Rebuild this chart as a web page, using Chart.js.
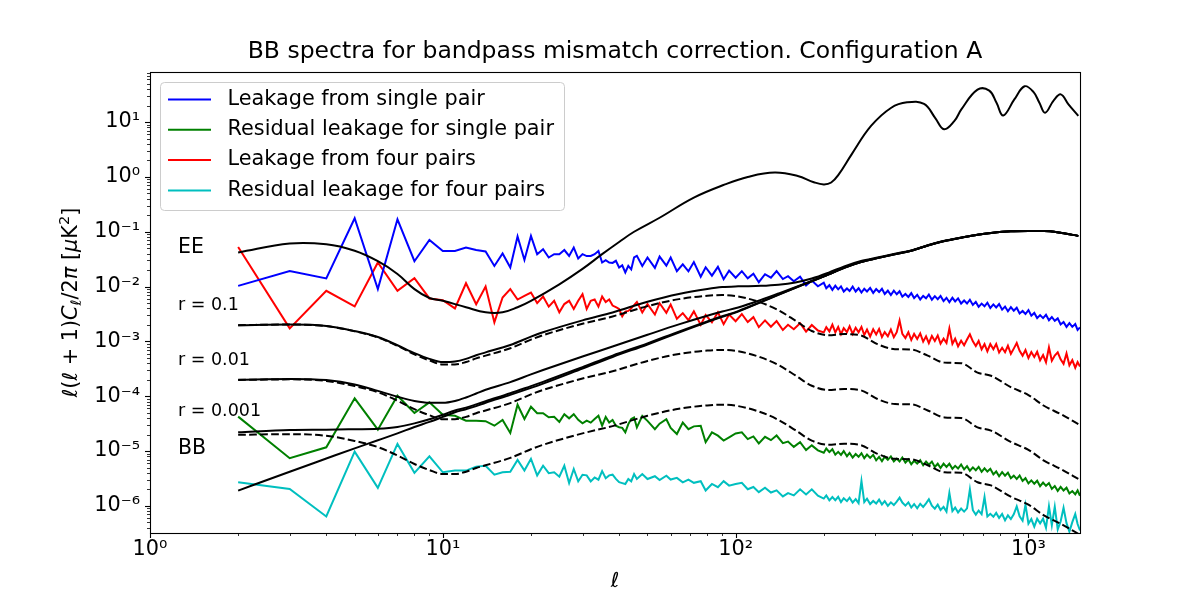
<!DOCTYPE html>
<html>
<head>
<meta charset="utf-8">
<title>BB spectra for bandpass mismatch correction</title>
<script src="https://cdn.jsdelivr.net/npm/chart.js@4.4.1/dist/chart.umd.min.js"></script>
<style>
  html, body { margin: 0; padding: 0; background: #fff; }
  #wrap { width: 1200px; height: 600px; }
</style>
</head>
<body>
<div id="wrap"><canvas id="chart" width="1200" height="600"></canvas></div>
<script>
// ===== DATA =====
// multipoles of the measured (simulated) leakage spectra
const dataEll = [2, 3, 4, 5, 6, 7, 8, 9, 10, 11, 12, 13, 14, 15, 16, 17, 18, 19, 20, 21, 22, 23, 24, 25, 26, 27, 28, 29, 30, 31, 32, 33, 34, 35, 36, 37, 38, 39, 40, 41, 42, 43, 44, 45,
    46, 48, 50, 53, 55, 58, 60, 63, 66, 69, 72, 76, 79, 83, 87, 91, 95, 100, 105, 110,
    115, 120, 126, 132, 138, 145, 151, 158, 166, 174, 182, 191,
    200, 204, 209, 214, 219, 224, 229, 234, 240, 245, 251, 257, 263, 269, 275, 281, 288, 295, 302, 309,
    316, 323, 331, 339, 347, 355, 363, 371, 380, 389, 398, 407, 417, 427, 437, 447, 457, 468, 479, 490,
    501, 513, 525, 537, 550, 562, 575, 589, 603, 617, 631, 646, 661, 676, 692, 708, 724, 741, 759, 776,
    794, 813, 832, 851, 871, 891, 912, 933, 955, 977, 1000, 1023, 1047, 1071, 1096, 1122, 1148, 1175, 1202, 1230,
    1259, 1288, 1318, 1349, 1380, 1412, 1445, 1472, 1500];

const leakSingle = [0.0103, 0.0193, 0.0141, 0.176, 0.00898, 0.169, 0.029, 0.071, 0.0447, 0.0447, 0.0515, 0.0464, 0.0436, 0.0238, 0.0401, 0.0223, 0.0818, 0.0306, 0.0838, 0.0389, 0.048, 0.0339, 0.0389, 0.039, 0.0464, 0.0362, 0.0515, 0.0325, 0.039, 0.036, 0.0362, 0.039, 0.0447, 0.0275, 0.0303, 0.0275, 0.027, 0.0295, 0.0223, 0.0244, 0.0181, 0.0238, 0.0206, 0.0339,
    0.0363, 0.0238, 0.0339, 0.0219, 0.0352, 0.0241, 0.0339, 0.0191, 0.0255, 0.019, 0.028, 0.0151, 0.0225, 0.0158, 0.0229, 0.0136, 0.0195, 0.0145, 0.0191, 0.0141,
    0.0171, 0.012, 0.0168, 0.0145, 0.0191, 0.0137, 0.0155, 0.0125, 0.0152, 0.0105, 0.0129, 0.0101,
    0.01175, 9.33e-3, 0.0106, 8.71e-3, 0.01035, 8.91e-3, 0.0101, 8.13e-3, 9.23e-3, 8.32e-3, 0.01, 8.13e-3, 9.33e-3, 7.76e-3, 9.12e-3, 8.13e-3, 9.44e-3, 7.67e-3, 9.02e-3, 7.94e-3,
    9.12e-3, 7.33e-3, 8.41e-3, 7.0e-3, 8.41e-3, 7.24e-3, 8.22e-3, 6.53e-3, 7.33e-3, 6.46e-3, 7.59e-3, 6.17e-3, 7.08e-3, 5.82e-3, 6.76e-3, 6.1e-3, 7.16e-3, 5.75e-3, 6.68e-3, 5.89e-3,
    6.76e-3, 5.43e-3, 6.24e-3, 5.19e-3, 6.24e-3, 5.37e-3, 6.1e-3, 4.9e-3, 5.56e-3, 4.9e-3, 5.75e-3, 4.62e-3, 5.25e-3, 4.27e-3, 4.9e-3, 4.37e-3, 5.07e-3, 4.07e-3, 4.73e-3, 4.17e-3,
    4.79e-3, 3.8e-3, 4.32e-3, 3.55e-3, 4.22e-3, 3.63e-3, 4.12e-3, 3.24e-3, 3.59e-3, 3.16e-3, 3.72e-3, 2.95e-3, 3.31e-3, 2.66e-3, 3.02e-3, 2.66e-3, 3.05e-3, 2.43e-3, 2.79e-3, 2.37e-3,
    2.63e-3, 2.04e-3, 2.26e-3, 1.84e-3, 2.16e-3, 1.84e-3, 2.07e-3, 1.62e-3, 1.8e-3];

const residSingle = [4.24e-5, 7.4e-6, 1.17e-5, 9.16e-5, 2.45e-5, 1.02e-4, 4.94e-5, 7.74e-5, 4.6e-5, 4.4e-5, 3.58e-5, 3.58e-5, 3.5e-5, 2.9e-5, 3.7e-5, 2.14e-5, 7e-5, 3.85e-5, 6.44e-5, 4.9e-5, 4.9e-5, 4.13e-5, 4.2e-5, 3.4e-5, 4.7e-5, 3.95e-5, 4.7e-5, 3.7e-5, 3.2e-5, 3.58e-5, 3.3e-5, 3.85e-5, 4.4e-5, 2.9e-5, 4.2e-5, 3.3e-5, 3.7e-5, 2.9e-5, 2.72e-5, 2.65e-5, 2.2e-5, 3.1e-5, 3.85e-5, 4.1e-5,
    2.69e-5, 4.37e-5, 3.55e-5, 2.51e-5, 3.16e-5, 3.8e-5, 2.63e-5, 2.04e-5, 3.31e-5, 2.51e-5, 2.82e-5, 2.88e-5, 1.45e-5, 2.19e-5, 1.91e-5, 1.55e-5, 1.78e-5, 2.09e-5, 2.19e-5, 1.65e-5,
    1.85e-5, 1.38e-5, 1.82e-5, 1.58e-5, 1.92e-5, 1.39e-5, 1.49e-5, 1.19e-5, 1.45e-5, 1.04e-5, 1.27e-5, 1.03e-5,
    9.33e-6, 1.11e-5, 9.55e-6, 1.08e-5, 8.61e-6, 9.66e-6, 8.51e-6, 1.0e-5, 8.04e-6, 9.23e-6, 7.59e-6, 8.81e-6, 7.85e-6, 9.12e-6, 7.41e-6, 8.61e-6, 7.5e-6, 8.51e-6, 6.76e-6, 7.8e-6,
    6.53e-6, 7.89e-6, 6.92e-6, 7.98e-6, 6.46e-6, 7.28e-6, 6.46e-6, 7.62e-6, 6.17e-6, 7.03e-6, 5.75e-6, 6.64e-6, 5.89e-6, 6.79e-6, 5.5e-6, 6.41e-6, 5.62e-6, 6.41e-6, 5.13e-6, 5.89e-6,
    4.9e-6, 5.89e-6, 5.13e-6, 5.89e-6, 4.73e-6, 5.37e-6, 4.79e-6, 5.69e-6, 4.62e-6, 5.31e-6, 4.37e-6, 5.04e-6, 4.47e-6, 5.15e-6, 4.17e-6, 4.84e-6, 4.22e-6, 4.75e-6, 3.76e-6, 4.24e-6,
    3.47e-6, 4.12e-6, 3.55e-6, 4.03e-6, 3.2e-6, 3.55e-6, 3.09e-6, 3.59e-6, 2.85e-6, 3.2e-6, 2.57e-6, 2.92e-6, 2.54e-6, 2.88e-6, 2.29e-6, 2.66e-6, 2.32e-6, 2.6e-6, 2.04e-6, 2.3e-6,
    1.88e-6, 2.22e-6, 1.91e-6, 2.14e-6, 1.68e-6, 1.86e-6, 1.62e-6, 1.91e-6, 1.53e-6];

const leakFour = [0.0528, 0.00173, 0.00835, 0.00434, 0.0275, 0.00835, 0.0142, 0.00607, 0.00565, 0.00399, 0.0115, 0.00477, 0.01, 0.00222, 0.00632, 0.00898, 0.0058, 0.00678, 0.0078, 0.005, 0.0066, 0.0043, 0.0055, 0.0034, 0.0048, 0.0055, 0.0039, 0.0055, 0.00728, 0.0039, 0.0055, 0.0058, 0.0043, 0.0066, 0.0052, 0.0058, 0.0045, 0.0042, 0.0039, 0.00285, 0.0035, 0.0036, 0.004, 0.0046,
    5.25e-3, 3.36e-3, 4.79e-3, 3.09e-3, 4.97e-3, 3.33e-3, 4.68e-3, 2.58e-3, 3.28e-3, 2.44e-3, 3.53e-3, 2.0e-3, 3.03e-3, 2.24e-3, 3.39e-3, 2.06e-3, 3.09e-3, 2.34e-3, 3.16e-3, 2.25e-3,
    2.77e-3, 1.82e-3, 2.42e-3, 1.85e-3, 2.34e-3, 1.61e-3, 2.01e-3, 1.67e-3, 2.15e-3, 1.51e-3, 1.99e-3, 1.58e-3,
    1.46e-3, 1.81e-3, 1.52e-3, 2.02e-3, 1.46e-3, 1.83e-3, 1.35e-3, 1.75e-3, 1.48e-3, 1.89e-3, 1.37e-3, 1.78e-3, 1.47e-3, 1.84e-3, 1.31e-3, 1.64e-3, 1.23e-3, 1.66e-3, 1.34e-3, 1.69e-3,
    1.2e-3, 1.48e-3, 1.24e-3, 1.64e-3, 1.19e-3, 1.47e-3, 2.4e-3, 1.37e-3, 1.15e-3, 1.47e-3, 1.06e-3, 1.37e-3, 1.11e-3, 1.4e-3, 9.91e-4, 1.24e-3, 9.33e-4, 1.26e-3, 1.02e-3, 1.28e-3,
    9.08e-4, 1.12e-3, 9.38e-4, 1.72e-3, 9.0e-4, 1.12e-3, 8.13e-4, 1.03e-3, 8.51e-4, 1.08e-3, 1.35e-3, 1.0e-3, 8.24e-4, 1.02e-3, 7.18e-4, 8.91e-4, 6.61e-4, 8.93e-4, 7.21e-4, 8.95e-4,
    6.28e-4, 7.66e-4, 6.34e-4, 8.32e-4, 5.94e-4, 7.38e-4, 9.33e-4, 6.71e-4, 5.5e-4, 6.95e-4, 4.97e-4, 6.4e-4, 5.2e-4, 6.46e-4, 4.53e-4, 5.62e-4, 4.17e-4, 7.76e-4, 4.45e-4, 5.52e-4,
    6.31e-4, 4.72e-4, 3.91e-4, 6.03e-4, 3.66e-4, 4.55e-4, 3.31e-4, 4.19e-4, 3.47e-4];

const residFour = [2.7e-6, 2.04e-6, 6.4e-7, 9.75e-6, 2.13e-6, 1.35e-5, 4e-6, 8e-6, 4.1e-6, 4.4e-6, 4.4e-6, 5.2e-6, 5.4e-6, 3.7e-6, 4.1e-6, 4.2e-6, 6.9e-6, 4.4e-6, 7.2e-6, 3.6e-6, 5.4e-6, 3.95e-6, 4.1e-6, 3.4e-6, 5.4e-6, 2.6e-6, 4.7e-6, 2.8e-6, 3.7e-6, 3.6e-6, 2.8e-6, 3.3e-6, 3e-6, 4.3e-6, 3.2e-6, 3.6e-6, 3.7e-6, 3.1e-6, 2.7e-6, 2.6e-6, 2.5e-6, 3.1e-6, 2.8e-6, 3.8e-6,
    3.09e-6, 3.8e-6, 3.09e-6, 3.47e-6, 2.95e-6, 3.55e-6, 3.02e-6, 3.24e-6, 2.69e-6, 3.02e-6, 2.63e-6, 2.82e-6, 1.91e-6, 2.51e-6, 2.19e-6, 2.82e-6, 2.34e-6, 2.51e-6, 2.63e-6, 2.01e-6,
    2.21e-6, 1.78e-6, 2.15e-6, 1.75e-6, 1.92e-6, 1.49e-6, 1.71e-6, 1.55e-6, 2.0e-6, 1.61e-6, 2.0e-6, 1.53e-6,
    1.36e-6, 1.55e-6, 1.26e-6, 1.45e-6, 1.27e-6, 1.46e-6, 1.17e-6, 1.38e-6, 1.22e-6, 1.41e-6, 1.15e-6, 1.33e-6, 1.12e-6, 2.85e-6, 1.17e-6, 1.35e-6, 1.08e-6, 1.23e-6, 1.1e-6, 1.3e-6,
    1.06e-6, 1.22e-6, 1.0e-6, 1.16e-6, 1.035e-6, 1.2e-6, 1.41e-6, 1.15e-6, 1.01e-6, 1.16e-6, 9.33e-7, 1.08e-6, 9.02e-7, 1.09e-6, 9.55e-7, 1.11e-6, 1.32e-6, 1.01e-6, 8.91e-7, 1.05e-6,
    8.41e-7, 9.59e-7, 7.85e-7, 1.73e-6, 8.04e-7, 9.33e-7, 7.59e-7, 8.91e-7, 7.85e-7, 9.02e-7, 2.0e-6, 8.32e-7, 6.92e-7, 8.22e-7, 7.08e-7, 1.45e-6, 6.38e-7, 7.16e-7, 6.31e-7, 7.45e-7,
    6.03e-7, 7.11e-7, 5.43e-7, 6.73e-7, 5.75e-7, 7.0e-7, 9.77e-7, 6.44e-7, 5.36e-7, 1.05e-6, 4.72e-7, 5.75e-7, 4.17e-7, 5.81e-7, 4.81e-7, 5.86e-7, 3.98e-7, 9.89e-7, 4.45e-7, 9.66e-7,
    3.72e-7, 5.18e-7, 9.23e-7, 4.84e-7, 3.39e-7, 5.05e-7, 7.08e-7, 4.67e-7, 3.55e-7];

// theory: EE spectrum
const eeEll = [2, 3, 4, 5, 6, 7, 8, 9, 10, 12, 14, 16, 18, 20, 25, 30, 35, 40, 45, 55, 72, 92, 110, 136, 163, 185, 200, 212, 225, 249,
    290, 340, 385, 440, 480, 515, 558, 590, 670, 735, 778, 820, 895, 970, 1040, 1090, 1140, 1220, 1290, 1370, 1480];
const eeSpectrum = [0.042, 0.061, 0.059, 0.045, 0.029, 0.017, 0.009, 0.0062, 0.0055, 0.0042, 0.0034, 0.0034, 0.0042, 0.0055, 0.011, 0.021, 0.039, 0.065, 0.10, 0.18, 0.42, 0.73, 1.0, 1.2, 1.04, 0.8, 0.73, 0.79, 1.11, 2.58,
    8.5, 18.3, 23, 21.5, 12, 7.4, 10.4, 17, 39, 37.5, 22.5, 13.2, 25.9, 45, 35.5, 22.5, 14.8, 25, 32, 21, 13];

// theory: BB spectra (lensing, tensor-only dashed, total solid)
const bbEll = [2, 3, 4, 5, 6, 7, 8, 9, 10, 11, 12, 13, 14, 17, 20, 22, 30, 38, 50, 64, 80, 90, 102, 122, 140, 160, 182, 207,
    235, 268, 305, 350, 398, 453, 517, 590, 670, 745, 870, 1000, 1130, 1300, 1480];
const bbLensing = [1.9e-6, 4.2e-6, 7.3e-6, 1.12e-5, 1.57e-5, 2.1e-5, 2.74e-5, 3.4e-5, 4.2e-5, 5.1e-5, 5.8e-5, 6.6e-5, 7.6e-5, 1.06e-4, 1.42e-4, 1.7e-4, 3.2e-4, 5.2e-4, 8.8e-4, 1.45e-3, 2.25e-3, 2.8e-3, 3.5e-3, 5.2e-3, 7.1e-3, 9.5e-3, 0.0125, 0.0165,
    0.022, 0.028, 0.033, 0.039, 0.045, 0.056, 0.068, 0.078, 0.088, 0.095, 0.102, 0.103, 0.103, 0.095, 0.084];
const bbTensor_r01 = [1.98e-3, 2.03e-3, 1.9e-3, 1.53e-3, 1.18e-3, 8.3e-4, 5.8e-4, 4.5e-4, 3.8e-4, 3.8e-4, 4.2e-4, 4.9e-4, 5.5e-4, 7.5e-4, 1.08e-3, 1.3e-3, 2.1e-3, 2.85e-3, 4.4e-3, 5.9e-3, 6.8e-3, 7.0e-3, 6.6e-3, 5.1e-3, 3.7e-3, 2.4e-3, 1.55e-3, 1.3e-3,
    1.36e-3, 1.28e-3, 8.9e-4, 7.2e-4, 7.1e-4, 5.5e-4, 4.1e-4, 4.0e-4, 2.7e-4, 2.36e-4, 1.47e-4, 1.05e-4, 6.7e-5, 4.6e-5, 3.1e-5];
const bbTotal_r01 = [1.98e-3, 2.03e-3, 1.91e-3, 1.54e-3, 1.2e-3, 8.5e-4, 6.1e-4, 4.8e-4, 4.2e-4, 4.3e-4, 4.8e-4, 5.6e-4, 6.3e-4, 8.6e-4, 1.22e-3, 1.47e-3, 2.42e-3, 3.37e-3, 5.3e-3, 7.35e-3, 9.05e-3, 9.8e-3, 0.0101, 0.0103, 0.0108, 0.0119, 0.014, 0.0178,
    0.0234, 0.0293, 0.0339, 0.0397, 0.0457, 0.0566, 0.0684, 0.0784, 0.0883, 0.0952, 0.102, 0.103, 0.103, 0.095, 0.084];
const bbTensor_r001 = [1.98e-4, 2.03e-4, 1.9e-4, 1.53e-4, 1.18e-4, 8.3e-5, 5.8e-5, 4.5e-5, 3.8e-5, 3.8e-5, 4.2e-5, 4.9e-5, 5.5e-5, 7.5e-5, 1.08e-4, 1.3e-4, 2.1e-4, 2.85e-4, 4.4e-4, 5.9e-4, 6.8e-4, 7.0e-4, 6.6e-4, 5.1e-4, 3.7e-4, 2.4e-4, 1.55e-4, 1.3e-4,
    1.36e-4, 1.28e-4, 8.9e-5, 7.2e-5, 7.1e-5, 5.5e-5, 4.1e-5, 4.0e-5, 2.7e-5, 2.36e-5, 1.47e-5, 1.05e-5, 6.7e-6, 4.6e-6, 3.1e-6];
const bbTotal_r001 = [2.0e-4, 2.07e-4, 1.97e-4, 1.64e-4, 1.25e-4, 9.8e-5, 8.2e-5, 7.6e-5, 7.6e-5, 8.2e-5, 9.5e-5, 1.12e-4, 1.31e-4, 1.81e-4, 2.5e-4, 3.0e-4, 5.3e-4, 8.05e-4, 1.32e-3, 2.04e-3, 2.93e-3, 3.5e-3, 4.16e-3, 5.71e-3, 7.47e-3, 9.74e-3, 0.0127, 0.0166,
    0.0221, 0.0281, 0.0331, 0.0391, 0.0451, 0.0561, 0.068, 0.078, 0.088, 0.095, 0.102, 0.103, 0.103, 0.095, 0.084];
const bbTensor_r0001 = [1.98e-5, 2.03e-5, 1.9e-5, 1.53e-5, 1.18e-5, 8.3e-6, 5.8e-6, 4.5e-6, 3.8e-6, 3.8e-6, 4.2e-6, 4.9e-6, 5.5e-6, 7.5e-6, 1.08e-5, 1.3e-5, 2.1e-5, 2.85e-5, 4.4e-5, 5.9e-5, 6.8e-5, 7.0e-5, 6.6e-5, 5.1e-5, 3.7e-5, 2.4e-5, 1.55e-5, 1.3e-5,
    1.36e-5, 1.28e-5, 8.9e-6, 7.2e-6, 7.1e-6, 5.5e-6, 4.1e-6, 4.0e-6, 2.7e-6, 2.36e-6, 1.47e-6, 1.05e-6, 6.7e-7, 4.6e-7, 3.1e-7];
const bbTotal_r0001 = [2.2e-5, 2.42e-5, 2.45e-5, 2.5e-5, 2.55e-5, 2.75e-5, 3.2e-5, 3.8e-5, 4.6e-5, 5.5e-5, 6.2e-5, 7.1e-5, 8.1e-5, 1.13e-4, 1.53e-4, 1.83e-4, 3.4e-4, 5.5e-4, 9.2e-4, 1.51e-3, 2.32e-3, 2.87e-3, 3.57e-3, 5.25e-3, 7.14e-3, 9.5e-3, 0.0125, 0.0165,
    0.0221, 0.028, 0.033, 0.039, 0.045, 0.056, 0.068, 0.078, 0.088, 0.095, 0.102, 0.103, 0.103, 0.095, 0.084];

// axes ticks
const xMajorTicks = [1, 10, 100, 1000];
const xTickLabels = ['10\u2070', '10\u00b9', '10\u00b2', '10\u00b3'];
const yMajorTicks = [1e-6, 1e-5, 1e-4, 1e-3, 1e-2, 1e-1, 1, 10];
const yTickLabels = ['10\u207b\u2076', '10\u207b\u2075', '10\u207b\u2074', '10\u207b\u00b3', '10\u207b\u00b2', '10\u207b\u00b9', '10\u2070', '10\u00b9'];

// text labels placed on the plot
const curveLabels = [
    { text: 'EE', x: 178, y: 252.5, size: 20.5 },
    { text: 'r = 0.1', x: 178, y: 309.5, size: 17.5 },
    { text: 'r = 0.01', x: 178, y: 365, size: 17.5 },
    { text: 'r = 0.001', x: 178, y: 415.5, size: 17.5 },
    { text: 'BB', x: 178, y: 454, size: 20.5 }
];

const FONT = '"DejaVu Sans", "Liberation Sans", sans-serif';
Chart.defaults.font.family = FONT;
Chart.defaults.color = '#000';

// ===== HELPERS =====
function pts(ell, vals) {
    return ell.map((l, i) => ({ x: l, y: vals[i] }));
}

function dataLine(label, vals, color) {
    return {
        label: label, data: pts(dataEll, vals), borderColor: color, borderWidth: 2,
        pointRadius: 0, tension: 0, order: 2, clip: 0, inLegend: true
    };
}

function theoryLine(ell, vals, dashed, smooth) {
    const ds = {
        data: pts(ell, vals), borderColor: '#000', borderWidth: 2, pointRadius: 0,
        borderDash: dashed ? [7.7, 3.3] : [], order: 1, clip: 0
    };
    if (smooth) {
        ds.tension = 0.4;
    } else {
        ds.cubicInterpolationMode = 'monotone';
    }
    return ds;
}

function richText(ctx, parts, x, y, size, measureOnly) {
    let cx = x;
    parts.forEach(p => {
        const s = (p.sub || p.sup) ? size * 0.7 : size;
        ctx.font = (p.it ? 'italic ' : '') + s + 'px ' + FONT;
        const dy = p.sub ? size * 0.2 : (p.sup ? -size * 0.4 : 0);
        if (!measureOnly) ctx.fillText(p.t, cx, y + dy);
        cx += ctx.measureText(p.t).width;
    });
    return cx - x;
}

// ===== PLUGINS =====
const axisFrame = {
    id: 'axisFrame',
    afterDatasetsDraw(chart) {
        const { ctx, chartArea: a, scales: { x, y } } = chart;
        ctx.save();
        ctx.strokeStyle = '#000';
        const tick = (x1, y1, x2, y2, w) => {
            ctx.lineWidth = w;
            ctx.beginPath(); ctx.moveTo(x1, y1); ctx.lineTo(x2, y2); ctx.stroke();
        };
        // minor ticks
        for (let k = -7; k <= 3; k++) {
            for (let m = 2; m <= 9; m++) {
                const v = m * Math.pow(10, k);
                if (v > x.min && v < x.max) {
                    const px = Math.round(x.getPixelForValue(v)) + 0.5;
                    tick(px, a.bottom, px, a.bottom + 3, 0.8);
                }
                if (v > y.min && v < y.max) {
                    const py = Math.round(y.getPixelForValue(v)) + 0.5;
                    tick(a.left, py, a.left - 3, py, 0.8);
                }
            }
        }
        // major ticks
        xMajorTicks.forEach(v => {
            const px = Math.round(x.getPixelForValue(v)) + 0.5;
            tick(px, a.bottom, px, a.bottom + 5, 1.1);
        });
        yMajorTicks.forEach(v => {
            const py = Math.round(y.getPixelForValue(v)) + 0.5;
            tick(a.left, py, a.left - 5, py, 1.1);
        });
        // frame
        ctx.lineWidth = 1.1;
        ctx.strokeRect(Math.round(a.left) + 0.5, Math.round(a.top) + 0.5,
            Math.round(a.right - a.left), Math.round(a.bottom - a.top));
        ctx.restore();
    }
};

const textLayer = {
    id: 'textLayer',
    afterDraw(chart) {
        const { ctx, chartArea: a } = chart;
        ctx.save();
        ctx.fillStyle = '#000';

        // title
        ctx.font = '23.5px ' + FONT;
        ctx.textAlign = 'center';
        ctx.textBaseline = 'alphabetic';
        ctx.fillText('BB spectra for bandpass mismatch correction. Configuration A', (a.left + a.right) / 2, 58);

        // curve labels
        ctx.textAlign = 'left';
        curveLabels.forEach(l => {
            ctx.font = l.size + 'px ' + FONT;
            ctx.fillText(l.text, l.x, l.y);
        });

        // x axis title
        ctx.font = 'italic 20.8px ' + FONT;
        ctx.textAlign = 'center';
        ctx.fillText('\u2113', (a.left + a.right) / 2, 587);

        // y axis title (rotated)
        const yParts = [
            { t: '\u2113', it: true }, { t: '(' }, { t: '\u2113', it: true }, { t: ' + 1)' },
            { t: 'C', it: true }, { t: '\u2113', it: true, sub: true }, { t: '/2' }, { t: '\u03c0', it: true },
            { t: ' [' }, { t: '\u03bc', it: true }, { t: 'K' }, { t: '2', sup: true }, { t: ']' }
        ];
        ctx.textAlign = 'left';
        const w = richText(ctx, yParts, 0, 0, 20.8, true);
        ctx.translate(77, (a.top + a.bottom) / 2);
        ctx.rotate(-Math.PI / 2);
        richText(ctx, yParts, -w / 2, 0, 20.8, false);
        ctx.setTransform(1, 0, 0, 1, 0, 0);

        // legend
        ctx.beginPath();
        ctx.roundRect(160.5, 82.5, 404, 128, 4);
        ctx.fillStyle = 'rgba(255,255,255,0.8)';
        ctx.fill();
        ctx.strokeStyle = '#cccccc';
        ctx.lineWidth = 1;
        ctx.stroke();
        const items = chart.data.datasets.filter(d => d.inLegend);
        ctx.font = '20.8px ' + FONT;
        ctx.textBaseline = 'middle';
        items.forEach((d, i) => {
            const ry = 99.5 + i * 30.3;
            ctx.strokeStyle = d.borderColor;
            ctx.lineWidth = 2;
            ctx.beginPath(); ctx.moveTo(168, ry); ctx.lineTo(211, ry); ctx.stroke();
            ctx.fillStyle = '#000';
            ctx.fillText(d.label, 227.5, ry);
        });
        ctx.restore();
    }
};

// ===== CHART =====
const datasets = [
    dataLine('Leakage from single pair', leakSingle, '#0000ff'),
    dataLine('Residual leakage for single pair', residSingle, '#008000'),
    dataLine('Leakage from four pairs', leakFour, '#ff0000'),
    dataLine('Residual leakage for four pairs', residFour, '#00bfbf'),
    theoryLine(eeEll, eeSpectrum, false, true),
    theoryLine(bbEll, bbLensing, false),
    theoryLine(bbEll, bbTotal_r01, false),
    theoryLine(bbEll, bbTensor_r01, true),
    theoryLine(bbEll, bbTotal_r001, false),
    theoryLine(bbEll, bbTensor_r001, true),
    theoryLine(bbEll, bbTotal_r0001, false),
    theoryLine(bbEll, bbTensor_r0001, true)
];

new Chart(document.getElementById('chart'), {
    type: 'line',
    data: { datasets: datasets },
    options: {
        responsive: false,
        animation: false,
        devicePixelRatio: 1,
        events: [],
        layout: { padding: { left: 0, right: 120, top: 72, bottom: 0 } },
        plugins: {
            legend: { display: false },
            title: { display: false },
            tooltip: { enabled: false }
        },
        scales: {
            x: {
                type: 'logarithmic',
                min: 1,
                max: 1500,
                afterBuildTicks: s => { s.ticks = xMajorTicks.map(v => ({ value: v })); },
                afterFit: s => { s.height = 67; },
                ticks: {
                    callback: (v, i) => xTickLabels[i],
                    autoSkip: false, maxRotation: 0, padding: 4,
                    font: { size: 20.8 }, color: '#000'
                },
                grid: { display: false, drawTicks: false },
                border: { display: false }
            },
            y: {
                type: 'logarithmic',
                min: 3.2e-7,
                max: 82,
                afterBuildTicks: s => { s.ticks = yMajorTicks.map(v => ({ value: v })); },
                afterFit: s => { s.width = 150; },
                ticks: {
                    callback: (v, i) => yTickLabels[i],
                    autoSkip: false, padding: 10,
                    font: { size: 20.8 }, color: '#000'
                },
                grid: { display: false, drawTicks: false },
                border: { display: false }
            }
        }
    },
    plugins: [axisFrame, textLayer]
});
</script>
</body>
</html>
